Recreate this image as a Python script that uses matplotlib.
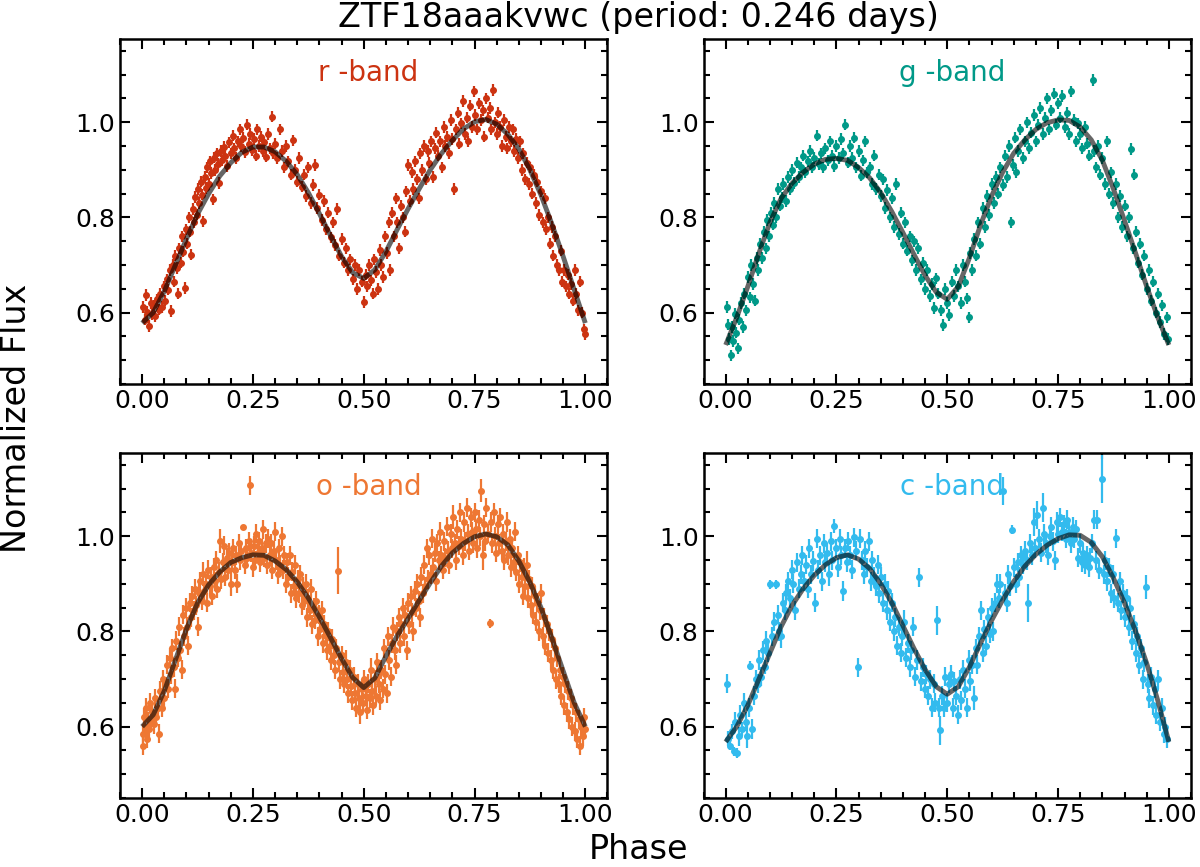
import matplotlib
matplotlib.use("Agg")
import matplotlib.pyplot as plt
from matplotlib.ticker import MultipleLocator

TITLE = "ZTF18aaakvwc (period: 0.246 days)"
bands = ["r", "g", "o", "c"]
band_colors = {"r": "#CC3311", "g": "#009988", "o": "#EE7733", "c": "#33BBEE"}

# ---- fitted model curves ----
model_phase = [0.000, 0.025, 0.050, 0.075, 0.100, 0.125, 0.150, 0.175, 0.200, 0.225,
               0.250, 0.275, 0.300, 0.325, 0.350, 0.375, 0.400, 0.425, 0.450, 0.475,
               0.500, 0.525, 0.550, 0.575, 0.600, 0.625, 0.650, 0.675, 0.700, 0.725,
               0.750, 0.775, 0.800, 0.825, 0.850, 0.875, 0.900, 0.925, 0.950, 0.975, 1.000]
r_model = [0.578, 0.600, 0.645, 0.700, 0.755, 0.807, 0.850, 0.887, 0.915, 0.937,
           0.948, 0.948, 0.938, 0.918, 0.890, 0.852, 0.808, 0.762, 0.718, 0.684,
           0.672, 0.690, 0.728, 0.774, 0.818, 0.860, 0.900, 0.934, 0.962, 0.986,
           1.001, 1.006, 0.996, 0.975, 0.944, 0.900, 0.847, 0.785, 0.718, 0.648, 0.578]
g_model = [0.532, 0.590, 0.655, 0.725, 0.790, 0.840, 0.872, 0.895, 0.912, 0.922,
           0.924, 0.920, 0.905, 0.883, 0.852, 0.812, 0.768, 0.722, 0.678, 0.643,
           0.628, 0.655, 0.715, 0.784, 0.845, 0.895, 0.935, 0.963, 0.985, 0.999,
           1.005, 1.004, 0.990, 0.963, 0.920, 0.860, 0.793, 0.725, 0.655, 0.590, 0.532]
o_model = [0.600, 0.625, 0.675, 0.740, 0.805, 0.860, 0.898, 0.925, 0.945, 0.955,
           0.961, 0.960, 0.948, 0.930, 0.904, 0.870, 0.830, 0.787, 0.743, 0.703,
           0.682, 0.702, 0.748, 0.790, 0.827, 0.865, 0.902, 0.937, 0.965, 0.985,
           0.999, 1.005, 0.999, 0.982, 0.948, 0.903, 0.850, 0.785, 0.717, 0.650, 0.600]
c_model = [0.568, 0.600, 0.645, 0.700, 0.755, 0.810, 0.855, 0.890, 0.918, 0.940,
           0.955, 0.961, 0.952, 0.932, 0.900, 0.860, 0.812, 0.764, 0.720, 0.684,
           0.668, 0.684, 0.725, 0.775, 0.823, 0.866, 0.905, 0.937, 0.962, 0.981,
           0.995, 1.003, 1.002, 0.987, 0.957, 0.912, 0.860, 0.800, 0.733, 0.655, 0.568]

# ---- r band observations ----
r_phase = [0.003,0.006,0.009,0.012,0.015,0.019,0.022,0.026,0.030,0.034,0.037,0.041,0.045,0.049,0.052,0.056,0.059,0.063,0.066,0.069,
           0.072,0.075,0.078,0.081,0.084,0.087,0.090,0.093,0.096,0.099,0.102,0.105,0.108,0.111,0.114,0.117,0.120,0.123,0.126,0.129,
           0.132,0.135,0.138,0.141,0.144,0.147,0.150,0.153,0.156,0.159,0.162,0.165,0.168,0.171,0.174,0.177,0.180,0.184,0.188,0.192,
           0.196,0.200,0.204,0.208,0.212,0.216,0.220,0.224,0.228,0.232,0.236,0.240,0.244,0.248,0.252,0.256,0.260,0.264,0.268,0.272,
           0.276,0.280,0.284,0.288,0.292,0.296,0.300,0.305,0.310,0.315,0.320,0.325,0.330,0.335,0.340,0.345,0.350,0.355,0.360,0.365,
           0.370,0.375,0.380,0.385,0.390,0.395,0.400,0.405,0.410,0.415,0.420,0.425,0.430,0.435,0.440,0.445,0.450,0.455,0.460,0.465,
           0.470,0.475,0.480,0.485,0.490,0.495,0.500,0.504,0.508,0.512,0.516,0.520,0.524,0.528,0.532,0.536,0.540,0.544,0.548,0.552,
           0.556,0.560,0.564,0.568,0.572,0.576,0.580,0.584,0.588,0.592,0.596,0.600,0.604,0.608,0.612,0.616,0.620,0.624,0.628,0.632,
           0.636,0.640,0.644,0.648,0.652,0.656,0.660,0.664,0.668,0.672,0.676,0.680,0.684,0.688,0.692,0.696,0.700,0.704,0.708,0.712,
           0.716,0.720,0.724,0.728,0.732,0.736,0.740,0.744,0.748,0.752,0.756,0.760,0.764,0.768,0.772,0.776,0.780,0.784,0.788,0.792,
           0.796,0.800,0.804,0.808,0.812,0.816,0.820,0.824,0.828,0.832,0.836,0.840,0.844,0.848,0.852,0.856,0.860,0.864,0.868,0.872,
           0.876,0.880,0.884,0.888,0.892,0.896,0.900,0.904,0.908,0.912,0.916,0.920,0.924,0.928,0.932,0.936,0.940,0.944,0.948,0.952,
           0.956,0.960,0.964,0.968,0.972,0.976,0.980,0.984,0.988,0.992,0.996,0.999]
r_flux = [0.612,0.585,0.637,0.601,0.572,0.620,0.597,0.615,0.592,0.628,0.606,0.640,0.612,0.655,0.625,0.670,0.648,0.690,0.603,0.700,
          0.665,0.720,0.694,0.640,0.735,0.705,0.760,0.728,0.652,0.775,0.745,0.800,0.770,0.722,0.818,0.790,0.843,0.806,0.860,0.830,
          0.875,0.848,0.792,0.885,0.862,0.905,0.870,0.918,0.893,0.838,0.926,0.900,0.935,0.912,0.872,0.940,0.920,0.948,0.930,0.908,
          0.958,0.935,0.972,0.945,0.925,0.960,0.985,0.950,0.968,0.938,0.995,0.955,0.975,0.942,0.965,0.930,0.985,0.950,0.970,0.940,
          0.958,0.928,0.975,0.945,1.012,0.935,0.955,0.925,0.985,0.940,0.905,0.950,0.918,0.890,0.962,0.900,0.875,0.925,0.865,0.890,
          0.845,0.905,0.830,0.868,0.910,0.820,0.848,0.795,0.835,0.775,0.810,0.758,0.790,0.742,0.818,0.720,0.755,0.705,0.735,0.690,
          0.712,0.670,0.700,0.650,0.690,0.665,0.622,0.680,0.655,0.700,0.668,0.640,0.712,0.685,0.650,0.732,0.700,0.675,0.760,0.725,
          0.790,0.690,0.810,0.760,0.840,0.790,0.735,0.825,0.800,0.770,0.855,0.910,0.835,0.895,0.860,0.918,0.880,0.840,0.935,0.900,
          0.950,0.880,0.940,0.915,0.960,0.885,0.945,0.978,0.930,0.960,0.905,0.990,0.950,0.970,0.935,1.005,0.965,0.860,0.985,1.020,
          0.955,0.998,1.045,0.975,1.010,0.960,1.035,0.990,1.065,1.015,0.985,1.040,1.005,1.025,0.970,1.050,1.010,1.030,0.985,1.068,
          1.000,0.975,1.020,0.990,0.950,1.005,0.970,0.945,0.990,0.960,0.985,0.940,0.965,0.925,0.960,0.900,0.935,0.880,0.915,0.870,
          0.905,0.850,0.890,0.830,0.875,0.805,0.855,0.790,0.840,0.775,0.800,0.745,0.780,0.720,0.760,0.700,0.690,0.730,0.665,0.690,
          0.655,0.680,0.640,0.660,0.625,0.690,0.640,0.605,0.665,0.600,0.565,0.555]
r_err = 0.012

# ---- g band observations ----
g_phase = [0.002,0.005,0.008,0.011,0.014,0.017,0.021,0.024,0.027,0.031,0.035,0.038,0.042,0.046,0.050,0.054,0.058,0.062,0.066,0.070,
           0.074,0.078,0.082,0.086,0.090,0.094,0.098,0.102,0.106,0.110,0.114,0.118,0.122,0.126,0.130,0.135,0.140,0.145,0.150,0.155,
           0.160,0.165,0.170,0.175,0.180,0.185,0.190,0.195,0.200,0.205,0.210,0.215,0.220,0.225,0.230,0.235,0.240,0.245,0.250,0.255,
           0.260,0.265,0.270,0.275,0.280,0.285,0.290,0.295,0.300,0.305,0.310,0.315,0.320,0.325,0.330,0.335,0.340,0.345,0.350,0.355,
           0.360,0.365,0.370,0.375,0.380,0.385,0.390,0.395,0.400,0.405,0.410,0.415,0.420,0.425,0.430,0.435,0.440,0.445,0.450,0.455,
           0.460,0.465,0.470,0.475,0.480,0.485,0.490,0.495,0.500,0.505,0.510,0.515,0.520,0.525,0.530,0.535,0.540,0.545,0.548,0.552,
           0.556,0.560,0.565,0.570,0.575,0.580,0.585,0.590,0.595,0.600,0.605,0.610,0.615,0.620,0.625,0.630,0.635,0.640,0.643,0.648,
           0.652,0.656,0.660,0.665,0.670,0.675,0.680,0.685,0.690,0.695,0.700,0.705,0.710,0.715,0.720,0.725,0.730,0.735,0.740,0.745,
           0.750,0.755,0.760,0.765,0.770,0.775,0.780,0.785,0.790,0.795,0.800,0.805,0.810,0.815,0.820,0.828,0.832,0.836,0.840,0.845,
           0.850,0.855,0.860,0.865,0.870,0.875,0.880,0.885,0.890,0.895,0.900,0.905,0.910,0.914,0.918,0.922,0.926,0.930,0.935,0.940,
           0.945,0.950,0.955,0.960,0.965,0.970,0.975,0.980,0.985,0.990,0.995,0.998]
g_flux = [0.612,0.575,0.545,0.510,0.570,0.540,0.598,0.558,0.525,0.585,0.620,0.570,0.640,0.605,0.675,0.632,0.700,0.660,0.625,0.715,
          0.690,0.745,0.715,0.770,0.735,0.795,0.760,0.810,0.785,0.830,0.800,0.860,0.825,0.842,0.870,0.835,0.885,0.860,0.900,0.872,
          0.915,0.885,0.905,0.930,0.895,0.918,0.940,0.905,0.925,0.972,0.912,0.935,0.905,0.945,0.920,0.960,0.930,0.908,0.950,0.925,
          0.965,0.935,0.995,0.915,0.950,0.925,0.968,0.905,0.940,0.888,0.920,0.960,0.895,0.905,0.870,0.930,0.860,0.890,0.845,0.880,
          0.820,0.858,0.800,0.840,0.780,0.870,0.765,0.810,0.745,0.790,0.730,0.760,0.710,0.750,0.690,0.735,0.670,0.705,0.650,0.690,
          0.635,0.660,0.610,0.672,0.640,0.605,0.574,0.650,0.620,0.595,0.665,0.635,0.690,0.655,0.620,0.700,0.665,0.630,0.590,0.725,
          0.690,0.755,0.720,0.790,0.745,0.820,0.780,0.845,0.805,0.870,0.830,0.885,0.850,0.905,0.868,0.930,0.885,0.950,0.790,0.910,
          0.968,0.895,0.940,0.985,0.925,0.960,1.000,0.945,0.978,1.015,0.960,0.995,1.030,0.975,1.010,1.050,0.985,1.025,1.060,0.995,
          1.040,1.010,1.055,0.990,1.020,0.975,1.065,1.005,0.960,0.998,0.975,0.945,0.990,0.955,0.930,1.089,0.940,0.905,0.950,0.890,
          0.925,0.870,0.960,0.850,0.895,0.830,0.870,0.800,0.845,0.780,0.825,0.760,0.800,0.944,0.735,0.890,0.770,0.705,0.745,0.680,
          0.720,0.650,0.690,0.625,0.665,0.600,0.640,0.580,0.615,0.555,0.590,0.545]
g_err = 0.012

# ---- o band observations ----
o_phase = [0.001,0.003,0.005,0.007,0.009,0.011,0.013,0.015,0.018,0.020,0.023,0.026,0.029,0.032,0.035,0.038,0.041,0.044,0.047,0.050,
           0.053,0.056,0.059,0.062,0.065,0.068,0.071,0.074,0.077,0.080,0.083,0.086,0.089,0.092,0.095,0.098,0.101,0.104,0.107,0.110,
           0.113,0.116,0.119,0.122,0.125,0.128,0.131,0.134,0.137,0.140,0.143,0.146,0.149,0.152,0.155,0.158,0.161,0.164,0.167,0.170,
           0.173,0.176,0.179,0.182,0.185,0.188,0.191,0.194,0.197,0.200,0.203,0.206,0.209,0.212,0.215,0.218,0.221,0.224,0.228,0.231,
           0.234,0.237,0.240,0.243,0.246,0.249,0.252,0.255,0.258,0.261,0.264,0.267,0.270,0.273,0.276,0.279,0.282,0.285,0.288,0.291,
           0.294,0.297,0.300,0.303,0.306,0.309,0.312,0.315,0.318,0.321,0.324,0.327,0.330,0.333,0.336,0.339,0.342,0.345,0.348,0.351,
           0.354,0.357,0.360,0.363,0.366,0.369,0.372,0.375,0.378,0.381,0.384,0.387,0.390,0.393,0.396,0.399,0.402,0.405,0.408,0.411,
           0.414,0.417,0.420,0.423,0.426,0.429,0.432,0.435,0.438,0.441,0.444,0.447,0.450,0.453,0.456,0.459,0.462,0.465,0.468,0.471,
           0.474,0.477,0.480,0.483,0.486,0.489,0.492,0.495,0.498,0.501,0.504,0.507,0.510,0.513,0.516,0.519,0.522,0.525,0.528,0.531,
           0.534,0.537,0.540,0.543,0.546,0.549,0.552,0.555,0.558,0.561,0.564,0.567,0.570,0.573,0.576,0.579,0.582,0.585,0.588,0.591,
           0.594,0.597,0.600,0.603,0.606,0.609,0.612,0.615,0.618,0.621,0.624,0.627,0.630,0.633,0.636,0.639,0.642,0.645,0.648,0.651,
           0.654,0.657,0.660,0.663,0.666,0.669,0.672,0.675,0.678,0.681,0.684,0.687,0.690,0.693,0.696,0.699,0.702,0.705,0.708,0.711,
           0.714,0.717,0.720,0.723,0.726,0.729,0.732,0.735,0.738,0.741,0.744,0.747,0.750,0.753,0.756,0.759,0.762,0.765,0.768,0.771,
           0.774,0.777,0.780,0.784,0.787,0.790,0.793,0.796,0.799,0.802,0.805,0.808,0.811,0.814,0.817,0.820,0.823,0.826,0.829,0.832,
           0.835,0.838,0.841,0.844,0.847,0.850,0.853,0.856,0.859,0.862,0.865,0.868,0.871,0.874,0.877,0.880,0.883,0.886,0.889,0.892,
           0.895,0.898,0.901,0.904,0.907,0.910,0.913,0.916,0.919,0.922,0.925,0.928,0.931,0.934,0.937,0.940,0.943,0.946,0.949,0.952,
           0.955,0.958,0.961,0.964,0.967,0.970,0.973,0.976,0.979,0.982,0.985,0.988,0.991,0.994,0.997,1.000]
o_flux = [0.585,0.560,0.620,0.600,0.640,0.575,0.615,0.595,0.650,0.610,0.630,0.605,0.660,0.620,0.640,0.585,0.675,0.640,0.700,0.660,
          0.690,0.730,0.680,0.745,0.710,0.765,0.725,0.680,0.780,0.745,0.810,0.760,0.720,0.835,0.790,0.850,0.810,0.770,0.860,0.830,
          0.875,0.845,0.890,0.855,0.810,0.880,0.905,0.865,0.920,0.885,0.900,0.860,0.930,0.895,0.915,0.875,0.935,0.905,0.950,0.890,
          0.925,0.990,0.910,0.945,0.980,0.915,0.955,0.930,0.965,0.900,0.945,0.975,0.930,0.960,0.900,0.985,0.950,0.970,1.019,0.940,
          0.975,0.955,0.990,1.107,0.965,0.935,0.980,0.950,1.005,0.965,0.990,0.945,0.975,1.015,0.955,0.985,0.940,0.995,0.960,0.985,
          0.930,0.970,1.010,0.950,0.920,0.975,0.940,1.000,0.930,0.960,0.900,0.945,0.915,0.960,0.880,0.925,0.895,0.940,0.870,0.910,
          0.880,0.920,0.855,0.895,0.865,0.900,0.830,0.870,0.845,0.890,0.815,0.850,0.825,0.865,0.790,0.835,0.805,0.845,0.775,0.815,
          0.790,0.760,0.800,0.770,0.740,0.785,0.750,0.720,0.765,0.928,0.735,0.700,0.750,0.715,0.690,0.735,0.700,0.670,0.720,0.685,
          0.655,0.705,0.670,0.640,0.690,0.660,0.630,0.680,0.650,0.700,0.665,0.635,0.690,0.660,0.720,0.675,0.645,0.700,0.665,0.735,
          0.690,0.655,0.720,0.680,0.765,0.710,0.670,0.790,0.740,0.705,0.775,0.810,0.760,0.730,0.800,0.830,0.775,0.815,0.850,0.790,
          0.835,0.760,0.860,0.815,0.875,0.840,0.800,0.885,0.850,0.900,0.865,0.830,0.915,0.880,0.940,0.895,0.975,0.910,0.960,0.920,
          0.995,0.935,0.965,0.905,0.985,0.950,1.010,0.960,0.930,0.990,0.955,1.020,0.970,0.940,1.005,0.975,1.040,0.985,0.950,1.015,
          0.980,1.050,0.995,0.960,1.030,0.990,1.060,1.005,0.970,1.040,1.010,0.985,1.050,1.015,0.975,1.035,1.000,1.096,0.960,1.025,
          0.990,1.060,1.005,0.817,1.030,0.985,1.050,1.000,0.965,1.025,0.985,1.040,0.970,1.005,0.950,0.990,1.030,0.960,0.995,0.935,
          0.975,0.945,1.010,0.925,0.960,0.900,0.945,0.915,0.875,0.935,0.895,0.940,0.870,0.910,0.855,0.895,0.835,0.875,0.820,0.860,
          0.800,0.845,0.880,0.790,0.830,0.770,0.815,0.755,0.800,0.740,0.785,0.720,0.765,0.700,0.745,0.690,0.720,0.665,0.705,0.645,
          0.690,0.630,0.675,0.615,0.660,0.600,0.645,0.590,0.630,0.575,0.615,0.560,0.600,0.580,0.620,0.595]
o_err = [0.020,0.020,0.020,0.015,0.020,0.020,0.015,0.020,0.020,0.020,0.020,0.020,0.020,0.015,0.020,0.020,0.020,0.020,0.020,0.020,
         0.015,0.020,0.020,0.020,0.020,0.020,0.020,0.020,0.020,0.020,0.020,0.020,0.020,0.020,0.020,0.020,0.020,0.020,0.020,0.020,
         0.020,0.020,0.020,0.020,0.020,0.020,0.020,0.020,0.025,0.020,0.020,0.020,0.020,0.020,0.020,0.020,0.020,0.020,0.020,0.020,
         0.020,0.025,0.020,0.020,0.020,0.020,0.020,0.020,0.020,0.025,0.020,0.020,0.020,0.020,0.020,0.020,0.020,0.020,0.005,0.020,
         0.020,0.020,0.020,0.020,0.020,0.020,0.020,0.020,0.020,0.020,0.020,0.020,0.020,0.020,0.020,0.020,0.020,0.020,0.020,0.020,
         0.020,0.020,0.020,0.020,0.020,0.020,0.020,0.020,0.020,0.020,0.020,0.020,0.020,0.020,0.020,0.020,0.020,0.020,0.020,0.020,
         0.020,0.020,0.020,0.020,0.020,0.020,0.020,0.020,0.020,0.020,0.020,0.020,0.020,0.020,0.020,0.020,0.020,0.020,0.020,0.020,
         0.020,0.020,0.020,0.020,0.020,0.020,0.020,0.020,0.020,0.050,0.020,0.020,0.020,0.020,0.020,0.025,0.020,0.020,0.020,0.020,
         0.020,0.020,0.020,0.020,0.020,0.020,0.025,0.020,0.020,0.020,0.020,0.020,0.020,0.020,0.025,0.020,0.020,0.020,0.020,0.020,
         0.020,0.020,0.020,0.020,0.020,0.020,0.020,0.020,0.020,0.020,0.020,0.020,0.020,0.020,0.020,0.020,0.020,0.020,0.020,0.020,
         0.020,0.020,0.020,0.020,0.020,0.020,0.020,0.020,0.020,0.020,0.020,0.020,0.020,0.020,0.020,0.020,0.020,0.020,0.020,0.020,
         0.020,0.020,0.020,0.020,0.020,0.020,0.020,0.020,0.020,0.020,0.020,0.020,0.020,0.020,0.020,0.020,0.025,0.020,0.020,0.020,
         0.020,0.020,0.020,0.020,0.020,0.020,0.020,0.020,0.020,0.020,0.020,0.020,0.020,0.020,0.020,0.020,0.020,0.025,0.030,0.020,
         0.020,0.020,0.020,0.010,0.020,0.020,0.020,0.020,0.020,0.020,0.020,0.020,0.020,0.020,0.020,0.020,0.020,0.020,0.020,0.020,
         0.020,0.020,0.020,0.020,0.020,0.020,0.020,0.020,0.020,0.020,0.020,0.030,0.020,0.020,0.020,0.020,0.020,0.020,0.020,0.020,
         0.020,0.020,0.020,0.020,0.020,0.020,0.020,0.020,0.020,0.020,0.020,0.020,0.020,0.020,0.020,0.020,0.020,0.020,0.020,0.020,
         0.020,0.020,0.020,0.020,0.020,0.020,0.020,0.020,0.020,0.020,0.020,0.020,0.020,0.020,0.020,0.020]

# ---- c band observations ----
c_phase = [0.003,0.006,0.010,0.014,0.018,0.022,0.025,0.029,0.033,0.037,0.041,0.045,0.049,0.053,0.056,0.060,0.064,0.068,0.072,0.076,
           0.080,0.084,0.088,0.092,0.096,0.100,0.104,0.108,0.113,0.117,0.121,0.125,0.129,0.133,0.137,0.141,0.145,0.149,0.153,0.157,
           0.161,0.165,0.169,0.173,0.177,0.181,0.185,0.189,0.193,0.197,0.201,0.205,0.209,0.213,0.217,0.221,0.225,0.229,0.233,0.237,
           0.241,0.245,0.249,0.253,0.257,0.261,0.265,0.269,0.273,0.277,0.281,0.285,0.289,0.293,0.299,0.303,0.307,0.311,0.315,0.319,
           0.323,0.327,0.331,0.335,0.339,0.343,0.347,0.351,0.355,0.359,0.363,0.367,0.371,0.375,0.379,0.383,0.387,0.391,0.395,0.399,
           0.403,0.407,0.411,0.415,0.419,0.423,0.427,0.431,0.437,0.441,0.445,0.449,0.453,0.457,0.461,0.465,0.469,0.473,0.477,0.481,
           0.484,0.488,0.492,0.496,0.500,0.504,0.508,0.512,0.516,0.520,0.524,0.528,0.532,0.536,0.540,0.544,0.548,0.552,0.556,0.560,
           0.564,0.568,0.572,0.576,0.580,0.584,0.588,0.592,0.596,0.600,0.604,0.608,0.612,0.616,0.620,0.626,0.630,0.634,0.638,0.642,
           0.647,0.651,0.655,0.659,0.663,0.667,0.671,0.675,0.679,0.683,0.687,0.691,0.695,0.699,0.703,0.707,0.711,0.715,0.719,0.723,
           0.727,0.731,0.735,0.739,0.743,0.747,0.751,0.755,0.759,0.763,0.767,0.771,0.775,0.779,0.783,0.787,0.791,0.795,0.799,0.803,
           0.807,0.811,0.815,0.819,0.823,0.827,0.831,0.835,0.839,0.843,0.849,0.853,0.857,0.861,0.865,0.869,0.873,0.877,0.881,0.885,
           0.889,0.893,0.897,0.901,0.905,0.909,0.913,0.917,0.921,0.925,0.929,0.933,0.937,0.941,0.945,0.948,0.952,0.956,0.960,0.964,
           0.968,0.972,0.976,0.980,0.984,0.988,0.992,0.996]
c_flux = [0.690,0.575,0.560,0.590,0.548,0.610,0.545,0.580,0.625,0.595,0.650,0.610,0.580,0.640,0.728,0.595,0.665,0.700,0.690,0.740,
          0.705,0.760,0.725,0.780,0.755,0.899,0.790,0.820,0.899,0.835,0.800,0.790,0.860,0.845,0.880,0.905,0.870,0.930,0.900,0.845,
          0.945,0.890,0.920,0.960,0.905,0.940,0.890,0.975,0.920,0.948,0.860,0.995,0.930,0.960,0.905,0.985,0.945,0.965,0.920,0.990,
          0.950,1.022,0.975,0.935,0.995,0.960,0.885,0.975,0.945,0.990,0.960,0.930,0.998,0.970,0.725,0.995,0.950,0.920,0.970,0.935,
          0.990,0.905,0.950,0.915,0.895,0.940,0.880,0.915,0.860,0.900,0.845,0.885,0.820,0.860,0.800,0.830,0.770,0.810,0.755,0.790,
          0.820,0.745,0.775,0.725,0.760,0.810,0.705,0.740,0.914,0.695,0.725,0.680,0.710,0.665,0.700,0.640,0.690,0.650,0.823,0.640,
          0.592,0.665,0.640,0.705,0.650,0.690,0.710,0.640,0.695,0.665,0.625,0.700,0.655,0.720,0.680,0.640,0.740,0.695,0.730,0.660,
          0.765,0.730,0.790,0.845,0.755,0.805,0.770,0.830,0.795,0.850,0.800,0.860,0.900,0.870,0.900,1.095,0.880,0.860,0.920,0.895,
          1.014,0.935,0.900,0.945,0.915,0.960,0.940,0.970,0.950,0.859,0.985,0.960,1.030,0.975,1.045,0.995,0.965,1.060,1.005,0.985,
          0.960,1.000,1.020,0.990,0.950,1.030,1.005,1.040,1.010,1.025,0.995,1.035,1.010,0.985,1.020,0.995,1.015,0.955,0.985,0.945,
          0.965,0.940,0.960,0.935,0.955,0.985,1.035,0.950,1.035,0.930,1.120,0.920,0.950,0.905,0.935,0.880,0.920,0.870,0.996,0.860,
          0.905,0.845,0.880,0.830,0.870,0.810,0.850,0.780,0.815,0.755,0.790,0.730,0.765,0.700,0.735,0.893,0.690,0.660,0.705,0.645,
          0.680,0.625,0.700,0.610,0.640,0.585,0.600,0.575]
c_err = [0.020,0.015,0.010,0.015,0.010,0.020,0.010,0.020,0.020,0.015,0.020,0.020,0.025,0.020,0.010,0.020,0.020,0.020,0.020,0.020,
         0.020,0.020,0.015,0.020,0.020,0.010,0.020,0.020,0.010,0.020,0.020,0.025,0.020,0.020,0.020,0.020,0.020,0.020,0.020,0.020,
         0.020,0.020,0.020,0.020,0.020,0.020,0.020,0.020,0.020,0.020,0.020,0.020,0.020,0.020,0.020,0.020,0.020,0.020,0.025,0.020,
         0.020,0.015,0.020,0.020,0.020,0.020,0.020,0.020,0.020,0.020,0.020,0.020,0.020,0.020,0.020,0.020,0.020,0.020,0.020,0.020,
         0.020,0.020,0.020,0.020,0.020,0.020,0.020,0.020,0.020,0.020,0.020,0.020,0.020,0.020,0.020,0.020,0.020,0.020,0.020,0.020,
         0.025,0.020,0.020,0.020,0.020,0.020,0.020,0.020,0.020,0.020,0.020,0.020,0.020,0.020,0.020,0.020,0.020,0.020,0.030,0.020,
         0.030,0.020,0.020,0.020,0.020,0.020,0.020,0.020,0.020,0.020,0.020,0.020,0.020,0.020,0.020,0.020,0.020,0.020,0.020,0.025,
         0.020,0.020,0.020,0.020,0.020,0.020,0.020,0.020,0.020,0.020,0.020,0.020,0.020,0.020,0.020,0.030,0.020,0.020,0.020,0.020,
         0.010,0.020,0.020,0.020,0.020,0.020,0.020,0.020,0.020,0.040,0.020,0.020,0.030,0.020,0.030,0.020,0.020,0.030,0.020,0.020,
         0.020,0.020,0.020,0.020,0.020,0.020,0.020,0.020,0.020,0.020,0.020,0.020,0.020,0.020,0.020,0.020,0.020,0.020,0.020,0.020,
         0.020,0.020,0.020,0.020,0.020,0.020,0.020,0.020,0.020,0.020,0.050,0.020,0.020,0.020,0.020,0.020,0.020,0.020,0.020,0.020,
         0.020,0.020,0.020,0.020,0.020,0.020,0.020,0.020,0.020,0.020,0.020,0.020,0.020,0.020,0.020,0.025,0.020,0.020,0.020,0.020,
         0.020,0.020,0.020,0.020,0.020,0.020,0.020,0.020]

obs = {
    "r": (r_phase, r_flux, r_err, r_model),
    "g": (g_phase, g_flux, g_err, g_model),
    "o": (o_phase, o_flux, o_err, o_model),
    "c": (c_phase, c_flux, c_err, c_model),
}

fig, axes = plt.subplots(2, 2, figsize=(12, 8.67), dpi=100)
fig.subplots_adjust(left=0.100, right=0.9925, bottom=0.0796, top=0.955,
                    wspace=0.197, hspace=0.20)

for ax, band in zip(axes.flat, bands):
    ph, fl, er, model = obs[band]
    col = band_colors[band]
    ax.errorbar(ph, fl, yerr=er, fmt='o', ms=4.0, color=col, ecolor=col,
                elinewidth=1.6, capsize=0, zorder=2)
    ax.plot(model_phase, model, color='black', alpha=0.6, lw=3.5, zorder=3,
            solid_capstyle='butt', solid_joinstyle='round')
    ax.text(0.51, 0.878, f"{band} -band", transform=ax.transAxes, ha='center',
            va='baseline', fontsize=20, color=col)
    ax.set_xlim(-0.05, 1.05)
    ax.set_ylim(0.45, 1.175)
    ax.set_xticks([0.0, 0.25, 0.5, 0.75, 1.0])
    ax.set_yticks([0.6, 0.8, 1.0])
    ax.xaxis.set_minor_locator(MultipleLocator(0.05))
    ax.yaxis.set_minor_locator(MultipleLocator(0.05))
    ax.tick_params(which='both', direction='in', top=True, right=True,
                   labelsize=18, width=1.5)
    ax.tick_params(which='major', length=7)
    ax.tick_params(which='minor', length=4)
    for s in ax.spines.values():
        s.set_linewidth(1.8)

fig.text(0.532, 0.969, TITLE, ha='center', va='baseline', fontsize=24)
fig.text(0.532, 0.001, "Phase", ha='center', va='bottom', fontsize=24)
fig.text(0.014, 0.518, "Normalized Flux", ha='center', va='center',
         rotation=90, fontsize=24)

fig.savefig("out.png", dpi=100)
